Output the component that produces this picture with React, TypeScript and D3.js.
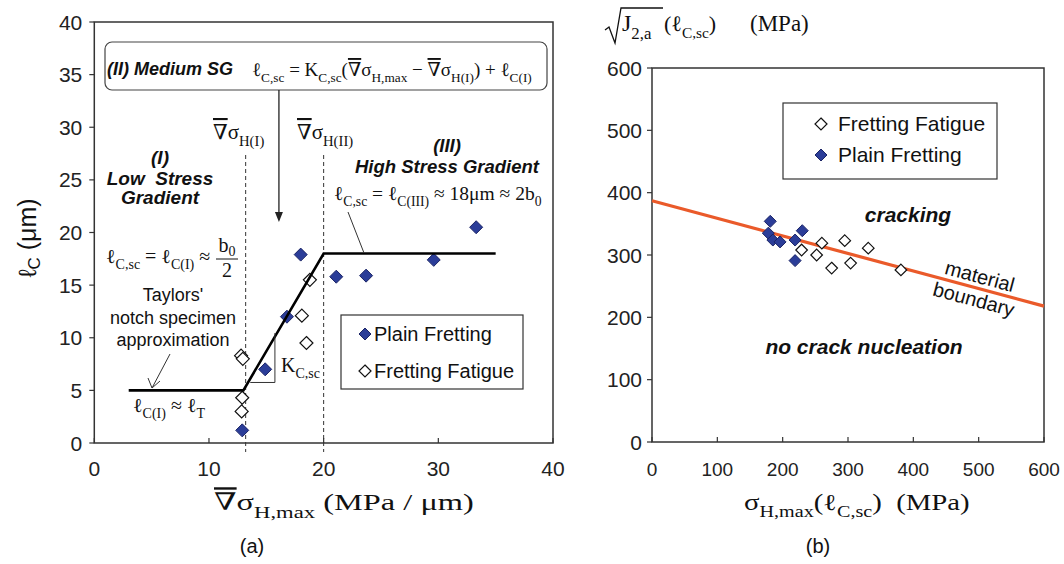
import React from "react";
import * as d3 from "d3";

// ---------- data (panel a) ----------
const aPlainX = [12.9, 14.9, 16.8, 18.0, 21.1, 23.7, 29.6, 33.3];
const aPlainY = [1.2, 7.0, 12.0, 17.9, 15.8, 15.9, 17.4, 20.5];
const aFatigueX = [12.85, 12.9, 12.8, 12.95, 18.1, 18.5, 18.8];
const aFatigueY = [3.0, 4.3, 8.3, 8.0, 12.1, 9.5, 15.5];
const aModelX = [3, 13, 20, 35];
const aModelY = [5, 5, 18, 18];
const aGradI = 13.2;
const aGradII = 20;
const aXTicks = [0, 10, 20, 30, 40];
const aYTicks = [0, 5, 10, 15, 20, 25, 30, 35, 40];

// ---------- data (panel b) ----------
const bFatigueX = [229, 252, 260, 275, 295, 304, 331, 381];
const bFatigueY = [308, 300, 319, 279, 323, 287, 311, 276];
const bPlainX = [181, 178, 185, 196, 219, 230, 219];
const bPlainY = [354, 335, 324, 321, 324, 339, 291];
const bBoundaryX = [0, 600];
const bBoundaryY = [387, 218];
const bXTicks = [0, 100, 200, 300, 400, 500, 600];
const bYTicks = [0, 100, 200, 300, 400, 500, 600];

const SANS = "'Liberation Sans', Arial, Helvetica, sans-serif";
const SERIF = "'Liberation Serif', 'Times New Roman', 'DejaVu Serif', serif";
const NAVY = "#2b3d98";
const NAVY_STROKE = "#1b2466";
const FRAME = "#333";

type Part = { t: string; sub?: boolean; ol?: boolean };

function Rich(props: { x: number; y: number; size: number; parts: Part[]; anchor?: string; family?: string; subShift?: number }) {
  const { x, y, size, parts, anchor = "start", family = SERIF, subShift = 0.32 } = props;
  let cur = 0;
  return (
    <text x={x} y={y} fontSize={size} fontFamily={family} textAnchor={anchor as any} fill="#111" style={{ whiteSpace: "pre" }}>
      {parts.map((p, i) => {
        const target = p.sub ? size * subShift : 0;
        const dy = target - cur;
        cur = target;
        return (
          <tspan key={i} dy={dy} fontSize={p.sub ? size * 0.7 : size} style={p.ol ? { textDecoration: "overline" } : undefined}>
            {p.t}
          </tspan>
        );
      })}
    </text>
  );
}

function Diamond({ cx, cy, r, filled }: { cx: number; cy: number; r: number; filled: boolean }) {
  const d = `M${cx},${cy - r}L${cx + r},${cy}L${cx},${cy + r}L${cx - r},${cy}Z`;
  return filled ? (
    <path d={d} fill={NAVY} stroke={NAVY_STROKE} strokeWidth={1} />
  ) : (
    <path d={d} fill="#fff" stroke="#111" strokeWidth={1.2} />
  );
}

function PanelA() {
  const x = d3.scaleLinear().domain([0, 40]).range([94.3, 553]);
  const y = d3.scaleLinear().domain([0, 40]).range([443, 22]);
  const line = d3.line<number>().x((_, i) => x(aModelX[i])).y((_, i) => y(aModelY[i]));
  const model = line(aModelX) as string;
  const arrowX = x(16.1);
  return (
    <g>
      {/* frame */}
      <rect x={x(0)} y={y(40)} width={x(40) - x(0)} height={y(0) - y(40)} fill="none" stroke={FRAME} strokeWidth={1.5} />
      {aYTicks.map((t) => (
        <g key={"ay" + t}>
          <line x1={x(0) - 5} x2={x(0)} y1={y(t)} y2={y(t)} stroke={FRAME} strokeWidth={1.2} />
          <text x={x(0) - 12} y={y(t) + 7.5} fontSize={21} fontFamily={SANS} textAnchor="end" fill="#222">{t}</text>
        </g>
      ))}
      {aXTicks.map((t) => (
        <g key={"ax" + t}>
          <line x1={x(t)} x2={x(t)} y1={y(0)} y2={y(0) - 5} stroke={FRAME} strokeWidth={1.2} />
          <text x={x(t)} y={476} fontSize={21} fontFamily={SANS} textAnchor="middle" fill="#222">{t}</text>
        </g>
      ))}
      {/* dashed gradient thresholds */}
      {[aGradI, aGradII].map((g) => (
        <line key={"g" + g} x1={x(g)} x2={x(g)} y1={155} y2={452} stroke="#333" strokeWidth={1} strokeDasharray="4,3" />
      ))}
      {/* markers */}
      {aFatigueX.map((v, i) => (
        <Diamond key={"af" + i} cx={x(v)} cy={y(aFatigueY[i])} r={6.5} filled={false} />
      ))}
      {aPlainX.map((v, i) => (
        <Diamond key={"ap" + i} cx={x(v)} cy={y(aPlainY[i])} r={6.5} filled={true} />
      ))}
      {/* model line */}
      <path d={model} fill="none" stroke="#000" strokeWidth={2.6} />
      {/* slope triangle */}
      <path d={`M${x(13.6)},${y(5.75)}L${x(15.75)},${y(5.75)}L${x(15.75)},${y(10.45)}`} fill="none" stroke="#333" strokeWidth={1} />
      <Rich x={281} y={372} size={20} parts={[{ t: "K" }, { t: "C,sc", sub: true }]} />

      {/* rounded box with medium SG formula */}
      <rect x={105} y={42} width={442} height={48} rx={7} fill="#fff" stroke="#444" strokeWidth={1.2} />
      <text x={107} y={75} fontSize={18} fontFamily={SANS} fontWeight="bold" fontStyle="italic" fill="#111">(II) Medium SG</text>
      <Rich
        x={252}
        y={76}
        size={19}
        parts={[
          { t: "ℓ" }, { t: "C,sc", sub: true }, { t: " = K" }, { t: "C,sc", sub: true }, { t: "(" },
          { t: "∇", ol: true }, { t: "σ" }, { t: "H,max", sub: true }, { t: " − " }, { t: "∇", ol: true }, { t: "σ" },
          { t: "H(I)", sub: true }, { t: ") + ℓ" }, { t: "C(I)", sub: true },
        ]}
      />
      {/* arrow from box */}
      <line x1={arrowX} x2={arrowX} y1={90} y2={214} stroke="#222" strokeWidth={1.3} />
      <path d={`M${arrowX - 4},${212}L${arrowX + 4},${212}L${arrowX},${222}Z`} fill="#222" />

      {/* threshold labels */}
      <Rich x={213} y={139} size={21} parts={[{ t: "∇", ol: true }, { t: "σ" }, { t: "H(I)", sub: true }]} />
      <Rich x={297} y={139} size={21} parts={[{ t: "∇", ol: true }, { t: "σ" }, { t: "H(II)", sub: true }]} />

      {/* region I */}
      <g fontFamily={SANS} fontWeight="bold" fontStyle="italic" fontSize={19} textAnchor="middle" fill="#111">
        <text x={160} y={164}>(I)</text>
        <text x={160} y={185} style={{ whiteSpace: "pre" }}>Low  Stress</text>
        <text x={160} y={204}>Gradient</text>
      </g>
      {/* region III */}
      <g fontFamily={SANS} fontWeight="bold" fontStyle="italic" fontSize={18.5} textAnchor="middle" fill="#111">
        <text x={447} y={152}>(III)</text>
        <text x={447} y={173}>High Stress Gradient</text>
      </g>
      <Rich
        x={334}
        y={200}
        size={19.5}
        parts={[{ t: "ℓ" }, { t: "C,sc", sub: true }, { t: " = ℓ" }, { t: "C(III)", sub: true }, { t: " ≈ 18μm ≈ 2b" }, { t: "0", sub: true }]}
      />
      <line x1={348} y1={212} x2={364} y2={253} stroke="#333" strokeWidth={1} />

      {/* region I formula */}
      <Rich x={106} y={263} size={20} parts={[{ t: "ℓ" }, { t: "C,sc", sub: true }, { t: " = ℓ" }, { t: "C(I)", sub: true }, { t: " ≈" }]} />
      <Rich x={227} y={252} size={20} anchor="middle" subShift={0.2} parts={[{ t: "b" }, { t: "0", sub: true }]} />
      <line x1={216} x2={238} y1={259} y2={259} stroke="#111" strokeWidth={1} />
      <text x={227} y={277} fontSize={20} fontFamily={SERIF} textAnchor="middle" fill="#111">2</text>

      {/* Taylor */}
      <g fontFamily={SANS} fontSize={18} textAnchor="middle" fill="#111">
        <text x={173} y={301}>Taylors'</text>
        <text x={173} y={324}>notch specimen</text>
        <text x={173} y={346}>approximation</text>
      </g>
      <line x1={170} y1={354} x2={152} y2={388} stroke="#333" strokeWidth={1} />
      <path d="M148,378 L152,388 L160,381" fill="none" stroke="#333" strokeWidth={1} />
      <Rich x={133} y={412} size={20} parts={[{ t: "ℓ" }, { t: "C(I)", sub: true }, { t: " ≈ ℓ" }, { t: "T", sub: true }]} />

      {/* legend */}
      <rect x={341} y={315} width={182} height={74} fill="#fff" stroke="#333" strokeWidth={1.2} />
      <Diamond cx={365} cy={334} r={6} filled={true} />
      <text x={374} y={341} fontSize={20} fontFamily={SANS} fill="#111">Plain Fretting</text>
      <Diamond cx={365} cy={371} r={6} filled={false} />
      <text x={374} y={378} fontSize={20} fontFamily={SANS} fill="#111">Fretting Fatigue</text>

      {/* axis titles */}
      <text transform="translate(36,238) rotate(-90)" fontSize={25} fontFamily={SANS} textAnchor="middle" fill="#111">
        <tspan>ℓ</tspan>
        <tspan fontSize={17} dy={4}>C</tspan>
        <tspan dy={-4}> (μm)</tspan>
      </text>
      <g transform="translate(214,510) scale(1.35,1)">
        <Rich
          x={0}
          y={0}
          size={24}
          parts={[{ t: "∇", ol: true }, { t: "σ" }, { t: "H,max", sub: true }, { t: " (MPa / μm)" }]}
        />
      </g>
      <text x={252} y={553} fontSize={20} fontFamily={SANS} textAnchor="middle" fill="#111">(a)</text>
    </g>
  );
}

function PanelB() {
  const x = d3.scaleLinear().domain([0, 600]).range([652, 1044]);
  const y = d3.scaleLinear().domain([0, 600]).range([442, 68]);
  const line = d3.line<number>().x((_, i) => x(bBoundaryX[i])).y((_, i) => y(bBoundaryY[i]));
  const angle = (Math.atan2(y(bBoundaryY[1]) - y(bBoundaryY[0]), x(bBoundaryX[1]) - x(bBoundaryX[0])) * 180) / Math.PI;
  return (
    <g>
      <rect x={x(0)} y={y(600)} width={x(600) - x(0)} height={y(0) - y(600)} fill="none" stroke={FRAME} strokeWidth={1.5} />
      {bYTicks.map((t) => (
        <g key={"by" + t}>
          <line x1={x(0) - 5} x2={x(0)} y1={y(t)} y2={y(t)} stroke={FRAME} strokeWidth={1.2} />
          <text x={x(0) - 10} y={y(t) + 7.5} fontSize={21} fontFamily={SANS} textAnchor="end" fill="#222">{t}</text>
        </g>
      ))}
      {bXTicks.map((t) => (
        <g key={"bx" + t}>
          <line x1={x(t)} x2={x(t)} y1={y(0)} y2={y(0) - 5} stroke={FRAME} strokeWidth={1.2} />
          <text x={x(t)} y={476} fontSize={19} fontFamily={SANS} textAnchor="middle" fill="#222">{t}</text>
        </g>
      ))}
      <path d={line(bBoundaryX) as string} fill="none" stroke="#ea5a2a" strokeWidth={3.2} />
      {bFatigueX.map((v, i) => (
        <Diamond key={"bf" + i} cx={x(v)} cy={y(bFatigueY[i])} r={5.8} filled={false} />
      ))}
      {bPlainX.map((v, i) => (
        <Diamond key={"bp" + i} cx={x(v)} cy={y(bPlainY[i])} r={6} filled={true} />
      ))}
      <text x={908} y={222} fontSize={21} fontFamily={SANS} fontWeight="bold" fontStyle="italic" textAnchor="middle" fill="#111">cracking</text>
      <text x={864} y={354} fontSize={21} fontFamily={SANS} fontWeight="bold" fontStyle="italic" textAnchor="middle" fill="#111">no crack nucleation</text>
      <text transform={`translate(978,283) rotate(${angle})`} fontSize={20} fontFamily={SANS} textAnchor="middle" fill="#111">material</text>
      <text transform={`translate(972,306) rotate(${angle})`} fontSize={20} fontFamily={SANS} textAnchor="middle" fill="#111">boundary</text>

      {/* legend */}
      <rect x={783} y={103} width={214} height={76} fill="#fff" stroke="#333" strokeWidth={1.2} />
      <Diamond cx={821} cy={124} r={6} filled={false} />
      <text x={838} y={131} fontSize={21} fontFamily={SANS} fill="#111">Fretting Fatigue</text>
      <Diamond cx={821} cy={155} r={6} filled={true} />
      <text x={838} y={162} fontSize={21} fontFamily={SANS} fill="#111">Plain Fretting</text>

      {/* y title with radical */}
      <path d="M605,30 L609,27 L615,43 L621,8 L663,8" fill="none" stroke="#111" strokeWidth={1.3} />
      <Rich x={622} y={31} size={24} parts={[{ t: "J" }, { t: "2,a", sub: true }]} />
      <Rich x={664} y={31} size={22} parts={[{ t: "(ℓ" }, { t: "C,sc", sub: true }, { t: ")" }]} />
      <text x={750} y={31} fontSize={23} fontFamily={SERIF} fill="#111">(MPa)</text>
      {/* x title */}
      <g transform="translate(744,510) scale(1.25,1)">
        <Rich x={0} y={0} size={23} parts={[{ t: "σ" }, { t: "H,max", sub: true }, { t: "(ℓ" }, { t: "C,sc", sub: true }, { t: ")  (MPa)" }]} />
      </g>
      <text x={818} y={553} fontSize={20} fontFamily={SANS} textAnchor="middle" fill="#111">(b)</text>
    </g>
  );
}

export default function App() {
  return (
    <svg width={1064} height={564} style={{ position: "absolute", left: 0, top: 0, background: "#fff" }}>
      <rect width={1064} height={564} fill="#fff" />
      <PanelA />
      <PanelB />
    </svg>
  );
}
